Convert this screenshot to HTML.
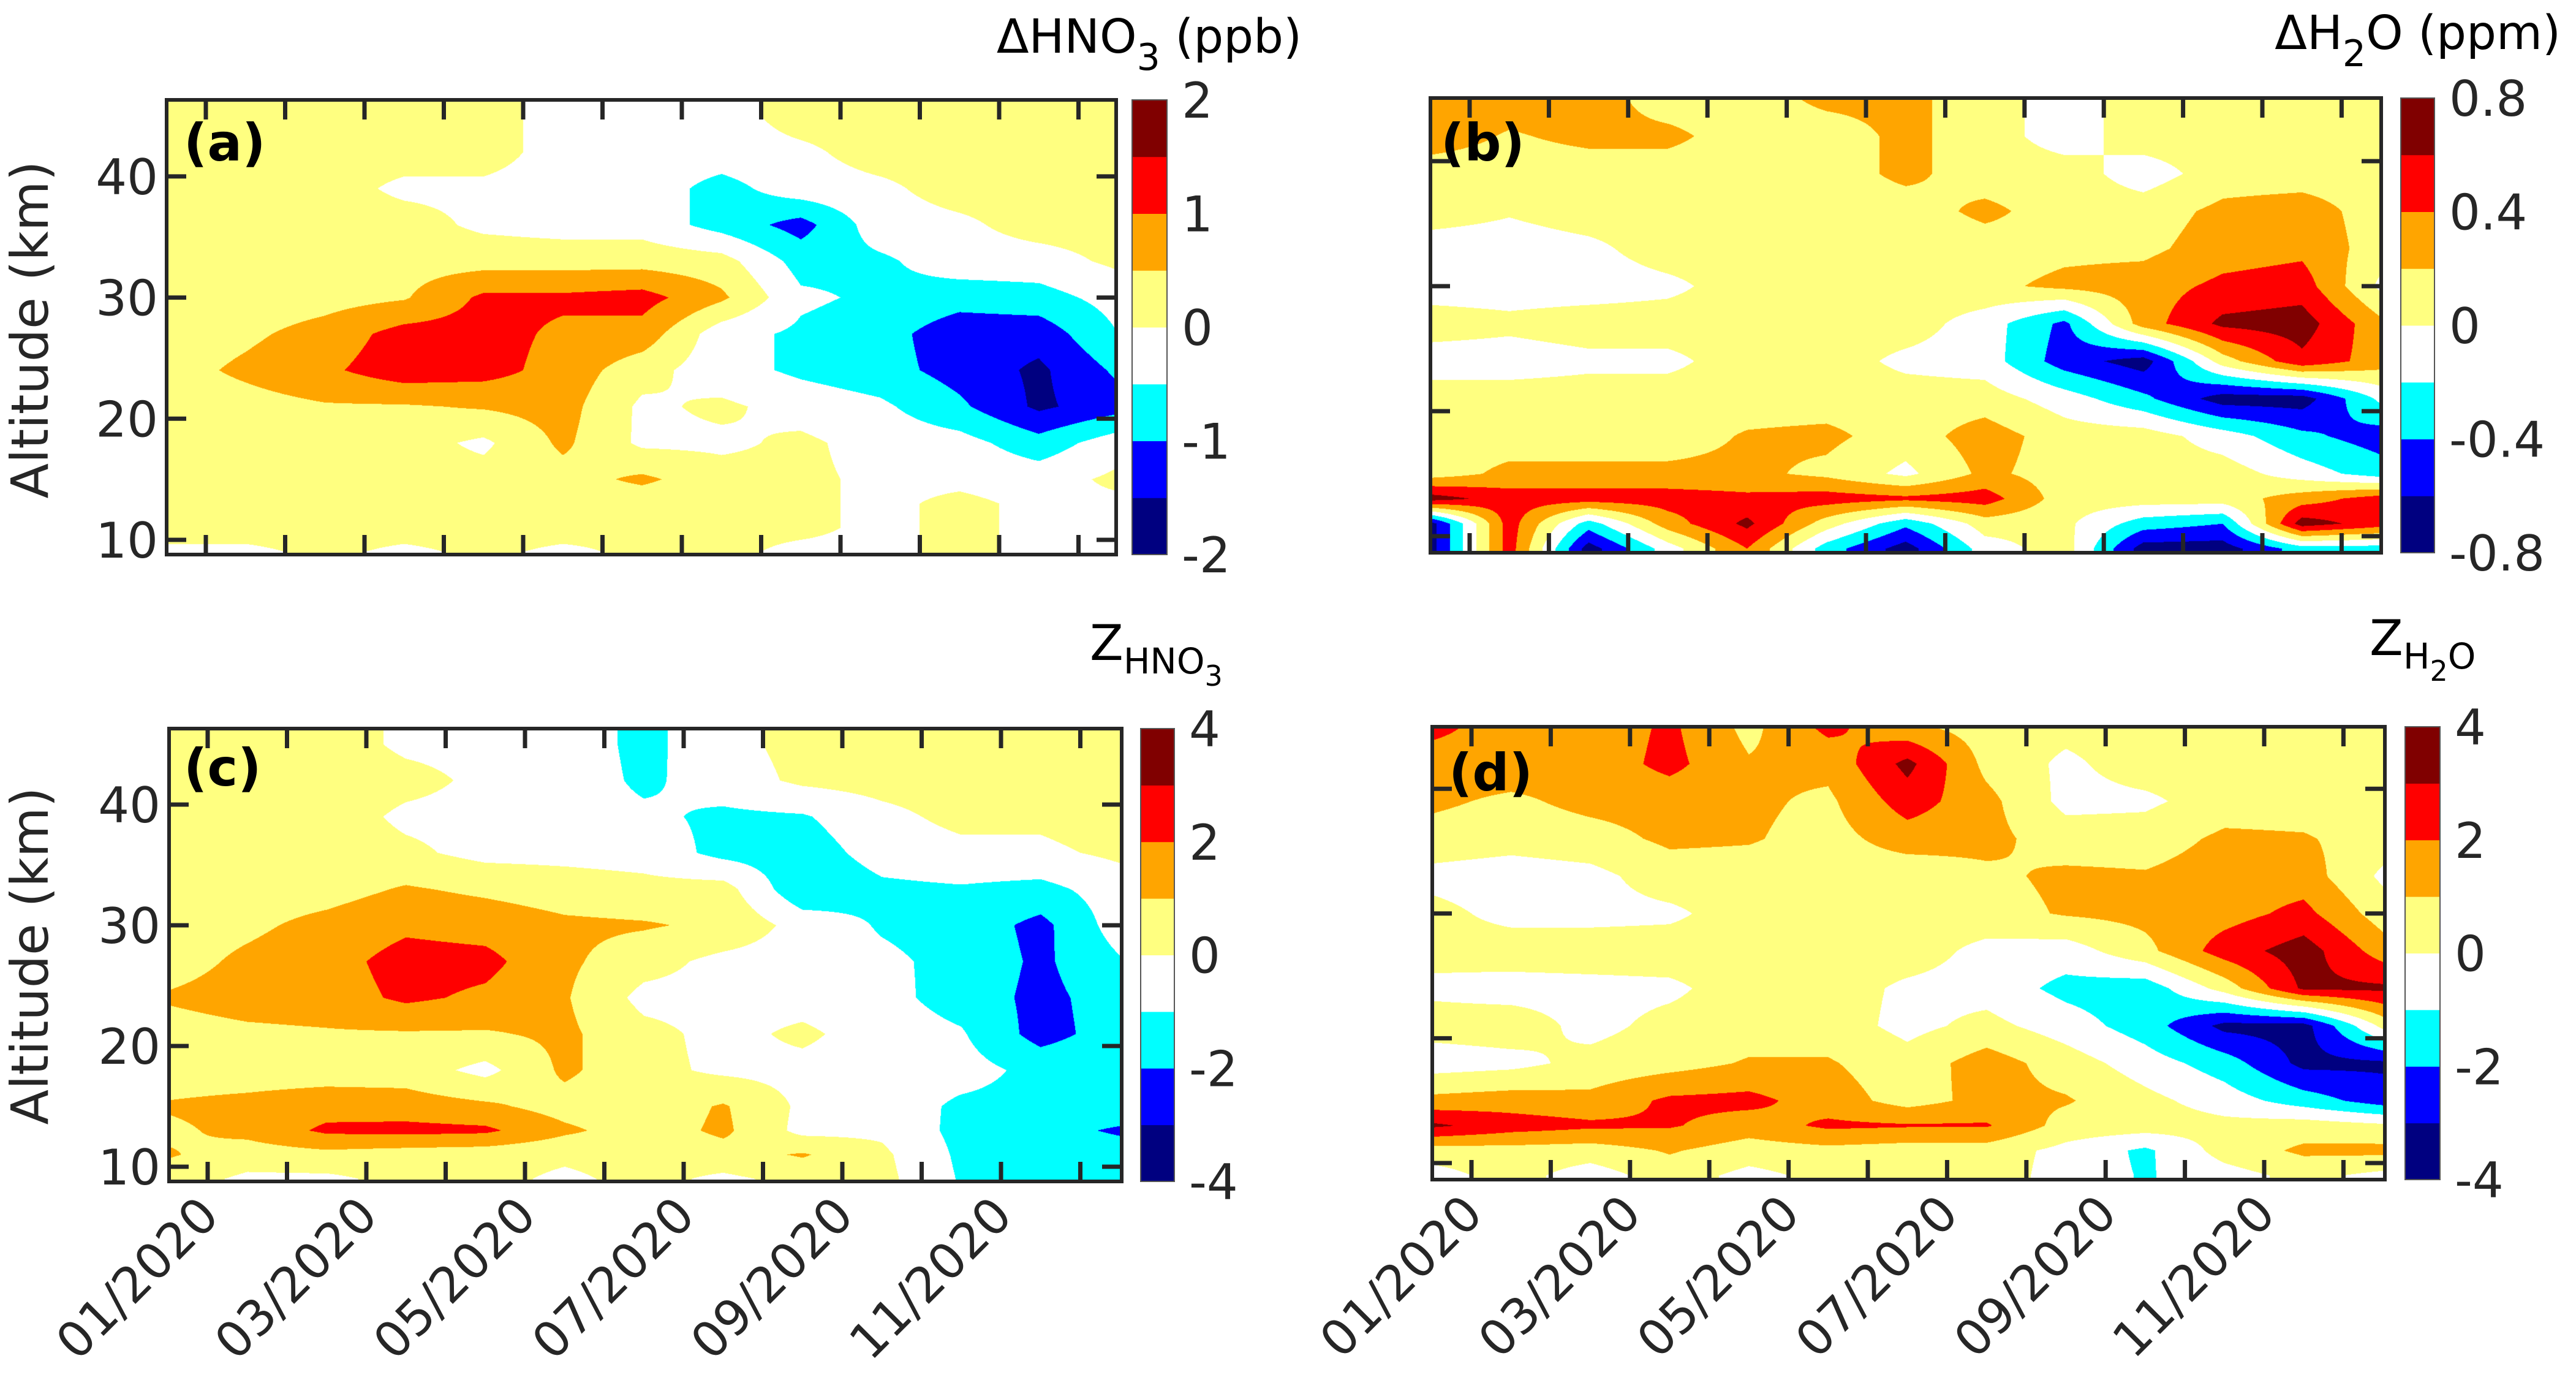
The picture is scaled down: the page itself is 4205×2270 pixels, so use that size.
<!DOCTYPE html>
<html><head><meta charset="utf-8">
<style>
html,body{margin:0;padding:0;background:#fff;}
#root{position:relative;width:4205px;height:2270px;overflow:hidden;background:#fff;font-family:"DejaVu Sans","Liberation Sans",sans-serif;}
canvas{position:absolute;}
svg{position:absolute;left:0;top:0;}
</style></head>
<body>
<div id="root">
<canvas id="cva"></canvas>
<canvas id="cvb"></canvas>
<canvas id="cvc"></canvas>
<canvas id="cvd"></canvas>
<svg id="ov" width="4205" height="2270" font-family="DejaVu Sans, Liberation Sans, sans-serif" fill="#262626">
  <g id="static">
    <text x="78" y="538" font-size="84" text-anchor="middle" transform="rotate(-90 78 538)">Altitude (km)</text>
    <text x="78" y="1560" font-size="84" text-anchor="middle" transform="rotate(-90 78 1560)">Altitude (km)</text>
    <text x="300" y="262" font-size="84" font-weight="bold" fill="#000">(a)</text>
    <text x="2352" y="262" font-size="84" font-weight="bold" fill="#000">(b)</text>
    <text x="300" y="1282" font-size="84" font-weight="bold" fill="#000">(c)</text>
    <text x="2365" y="1290" font-size="84" font-weight="bold" fill="#000">(d)</text>
    <text x="2125" y="86" font-size="77" text-anchor="end" fill="#000">ΔHNO<tspan font-size="60" dy="28">3</tspan><tspan dy="-28"> (ppb)</tspan></text>
    <text x="4180" y="80" font-size="77" text-anchor="end" fill="#000">ΔH<tspan font-size="60" dy="28">2</tspan><tspan dy="-28">O (ppm)</tspan></text>
    <text x="1779" y="1077" font-size="80" fill="#000">Z<tspan font-size="58" dy="22">HNO</tspan><tspan font-size="46" dy="20">3</tspan></text>
    <text x="3868" y="1069" font-size="80" fill="#000">Z<tspan font-size="58" dy="22">H</tspan><tspan font-size="46" dy="20">2</tspan><tspan font-size="58" dy="-20">O</tspan></text>
  </g>
  <g id="dyn"></g>
</svg>
</div>
<script>
// ---- data (grid: columns = mid-month steps, rows = altitude km) ----
const timeMonths = [-0.5,0.5,1.5,2.5,3.5,4.5,5.5,6.5,7.5,8.5,9.5,10.5,11.5];
const altitudesKm = [48,45,42,39,36,33,30,27,24,21,18,15,13,11,9];
const monthTicks = [0,1,2,3,4,5,6,7,8,9,10,11];
const dateLabelMonths = [0,2,4,6,8,10];
const dateLabels = ["01/2020","03/2020","05/2020","07/2020","09/2020","11/2020"];
const altTicks = [10,20,30,40];
const altTickLabels = ["10","20","30","40"];
const cbTicksA = [-2,-1,0,1,2];
const cbTicksB = [-0.8,-0.4,0,0.4,0.8];
const cbTicksZ = [-4,-2,0,2,4];
const hno3Delta = [
[0.2,0.2,0.2,0.2,0.2,-0.2,-0.2,-0.2,0.2,0.2,0.2,0.2,0.2],
[0.2,0.2,0.2,0.2,0.2,-0.2,-0.2,-0.2,0.2,0.2,0.2,0.2,0.2],
[0.2,0.2,0.2,0.2,0.2,-0.2,-0.2,-0.2,-0.1,0.2,0.2,0.2,0.2],
[0.2,0.2,0.2,-0.1,-0.1,-0.2,-0.2,-0.7,-0.2,-0.1,0.2,0.2,0.2],
[0.2,0.2,0.2,0.2,-0.1,-0.2,-0.2,-0.7,-1.2,-0.2,-0.1,0.2,0.2],
[0.2,0.2,0.2,0.3,0.3,0.3,0.3,0.2,-0.7,-0.6,-0.2,-0.2,0.1],
[0.2,0.2,0.3,0.45,1.1,1.1,1.2,0.6,-0.4,-0.6,-0.8,-0.7,-0.3],
[0.2,0.4,0.7,1.2,1.2,0.9,0.8,-0.3,-0.6,-0.8,-1.3,-1.3,-0.5],
[0.3,0.6,0.9,1.3,1.2,0.8,0.2,-0.3,-0.6,-0.8,-1.2,-1.6,-0.9],
[0.2,0.3,0.45,0.45,0.55,0.7,-0.1,0.1,-0.2,-0.4,-0.9,-1.6,-1.2],
[0.2,0.2,0.2,0.2,-0.1,0.6,-0.1,-0.1,0.1,-0.2,-0.3,-0.8,-0.2],
[0.2,0.2,0.2,0.2,0.2,0.3,0.6,0.2,0.1,-0.1,-0.1,-0.2,0.1],
[0.2,0.2,0.2,0.2,0.2,0.2,0.2,0.1,0.1,-0.1,0.1,-0.1,-0.1],
[0.2,0.2,0.2,0.2,0.2,0.2,0.1,0.1,0.1,-0.1,0.1,-0.1,-0.1],
[-0.1,-0.1,0.1,-0.1,0.1,-0.1,0.1,0.1,-0.1,-0.1,0.1,-0.1,-0.1]];
const h2oDelta = [
[0.3,0.3,0.3,0.1,0.1,0.25,0.25,0.1,-0.1,0.1,0.1,0.1,0.1],
[0.3,0.3,0.3,0.1,0.1,0.25,0.25,0.1,-0.1,0.1,0.1,0.1,0.1],
[0.3,0.18,0.25,0.25,0.1,0.1,0.25,0.1,-0.1,0.1,0.1,0.1,0.1],
[0.1,0.1,0.1,0.1,0.1,0.1,0.25,0.1,0.1,-0.1,0.1,0.1,0.1],
[0.1,0.02,0.1,0.1,0.1,0.1,0.1,0.25,0.1,0.1,0.25,0.3,0.1],
[-0.1,-0.1,-0.05,0.1,0.1,0.1,0.05,0.1,0.15,0.15,0.3,0.35,0.1],
[-0.1,-0.1,-0.1,-0.05,0.1,0.1,0.1,0.15,0.25,0.3,0.45,0.5,-0.05],
[0.1,0.05,0.1,0.1,0.1,0.1,0.1,-0.1,-0.45,0.3,0.65,0.7,0.25],
[-0.1,-0.1,-0.05,-0.05,0.1,0.1,-0.05,-0.1,-0.5,-0.7,0.1,0.55,0.3],
[0.1,0.1,0.1,0.1,0.1,0.1,0.1,0.1,-0.1,-0.35,-0.7,-0.7,-0.15],
[0.1,0.1,0.1,0.1,0.22,0.25,0.1,0.3,0.1,0.1,-0.1,-0.35,-0.5],
[0.1,0.25,0.25,0.25,0.25,0.15,-0.05,0.25,0.1,0.1,0.1,-0.1,-0.3],
[0.7,0.5,0.5,0.5,0.45,0.5,0.45,0.5,0.1,0.1,0.1,0.3,0.5],
[-0.7,0.5,-0.3,0.3,0.65,0.1,-0.35,0.1,0.05,-0.3,-0.4,0.7,0.5],
[-0.7,0.5,-0.7,-0.1,0.4,-0.3,-0.7,-0.1,0.1,-0.7,-0.7,-0.3,-0.3]];
const hno3Z = [
[0.5,0.5,0.5,-0.2,-0.3,-0.4,-1.3,-0.3,0.3,0.5,0.5,0.5,0.5],
[0.5,0.5,0.5,-0.2,-0.3,-0.4,-1.3,-0.3,0.3,0.5,0.5,0.5,0.5],
[0.5,0.5,0.6,0.3,-0.2,-0.4,-1.2,-0.5,0.2,0.4,0.5,0.5,0.5],
[0.5,0.5,0.5,-0.2,-0.3,-0.6,-0.8,-1.2,-1.1,-0.3,0.3,0.2,0.5],
[0.4,0.5,0.5,0.2,-0.3,-0.3,-0.4,-1.3,-1.5,-0.6,-0.3,-0.2,0.2],
[0.5,0.5,0.6,1.1,0.8,0.5,0.3,0.4,-1.8,-1.2,-1.1,-1.3,-0.5],
[0.5,0.8,1.3,1.8,1.6,1.2,1.1,0.8,-0.4,-1.1,-1.4,-2.3,-0.5],
[0.6,1.2,1.6,2.4,2.3,1.2,0.4,-0.3,-0.5,-0.8,-1.3,-2.2,-1.1],
[1.1,1.4,1.5,2.2,1.8,1.1,-0.3,-0.3,-0.4,-0.7,-1.4,-2.3,-1.5],
[0.6,0.8,0.9,0.9,0.9,1.2,0.3,-0.3,0.2,-0.5,-0.9,-2.4,-1.5],
[0.5,0.5,0.5,0.5,-0.3,1.2,0.3,-0.2,-0.3,-0.5,-0.6,-1.3,-1.1],
[1.1,1.3,1.6,1.5,1.2,0.6,0.4,1.1,-0.2,-0.4,-1.2,-1.3,-1.1],
[0.8,1.3,2.2,2.3,2.2,1.2,0.5,1.2,-0.3,-0.2,-1.3,-1.5,-2.2],
[1.1,0.5,0.7,0.5,0.4,0.2,0.4,0.6,1.1,0.2,-1.2,-1.2,-1.3],
[0.5,-0.2,-0.2,0.3,0.3,-0.2,0.3,-0.2,0.3,0.3,-1.1,-1.1,-1.2]];
const h2oZ = [
[2.3,1.5,1.3,2.2,0.7,2.3,1.2,0.5,0.3,0.5,0.5,0.5,0.5],
[2.3,1.5,1.3,2.2,0.7,2.3,1.2,0.5,0.3,0.5,0.5,0.5,0.5],
[1.5,1.6,1.4,2.3,1.1,1.3,3.3,0.7,-0.2,0.5,0.5,0.5,0.5],
[1.2,0.8,1.3,1.4,1.2,0.8,2.5,1.3,-0.3,-0.2,0.5,0.5,0.5],
[0.6,0.4,0.6,1.2,1.1,0.6,1.5,1.3,0.5,0.5,1.2,1.1,0.5],
[-0.3,-0.5,-0.3,0.5,0.5,0.5,0.3,0.8,1.2,1.1,1.5,1.5,-0.2],
[0.3,-0.3,-0.3,-0.2,0.5,0.5,0.5,0.6,1.1,1.3,1.6,2.3,0.5],
[0.3,0.5,0.5,0.5,0.5,0.5,0.5,-0.3,-0.5,0.7,2.5,3.5,1.5],
[-0.2,-0.4,-0.3,-0.2,0.5,0.5,-0.2,-0.4,-1.3,-1.6,0.4,3.2,3.2],
[0.4,0.5,-0.3,0.3,0.5,0.5,-0.3,0.3,-0.5,-1.5,-3.3,-3.4,0.3],
[-0.5,-0.3,0.3,0.6,1.1,1.1,0.4,1.5,0.5,-0.5,-1.5,-3.3,-3.2],
[1.3,1.5,1.3,2.2,2.3,1.5,0.6,1.3,1.1,0.3,-0.5,-1.5,-2.5],
[3.2,2.5,2.2,2.1,1.5,2.2,2.1,2.1,0.6,0.5,0.3,0.5,0.2],
[0.5,0.6,0.5,1.1,0.5,0.7,0.5,0.5,-0.3,-1.2,0.4,1.2,1.3],
[-0.4,0.4,-0.5,0.5,-0.3,0.3,0.4,0.5,-0.4,-1.1,-0.4,0.3,-0.3]];

const palette = [[0,0,128],[0,0,255],[0,255,255],[255,255,255],[255,255,128],[255,165,0],[255,0,0],[128,0,0]];
const panels = [
 {id:'a', data:hno3Delta, step:0.5, x0:272,x1:1822,y0:163,y1:905, xJan:336, mpx:129.5, y10:881, kpx:19.77, cb:[1848,1905], cbt:cbTicksA, lab:true, dates:false},
 {id:'b', data:h2oDelta, step:0.2, x0:2335,x1:3887,y0:160,y1:902, xJan:2399, mpx:129.4, y10:875, kpx:20.4, cb:[3919,3974], cbt:cbTicksB, lab:false, dates:false},
 {id:'c', data:hno3Z, step:1, x0:276,x1:1831,y0:1189,y1:1928, xJan:339, mpx:129.5, y10:1904, kpx:19.7, cb:[1862,1917], cbt:cbTicksZ, lab:true, dates:true},
 {id:'d', data:h2oZ, step:1, x0:2338,x1:3893,y0:1186,y1:1925, xJan:2402, mpx:129.4, y10:1898, kpx:20.36, cb:[3926,3983], cbt:cbTicksZ, lab:false, dates:true}
];
function sample(data, t, a){
  let tt = Math.max(timeMonths[0], Math.min(timeMonths[timeMonths.length-1], t));
  let ci = 0; while(ci < timeMonths.length-2 && tt > timeMonths[ci+1]) ci++;
  const ft = (tt - timeMonths[ci])/(timeMonths[ci+1]-timeMonths[ci]);
  let aa = Math.max(altitudesKm[altitudesKm.length-1], Math.min(altitudesKm[0], a));
  let ri = 0; while(ri < altitudesKm.length-2 && aa < altitudesKm[ri+1]) ri++;
  const fa = (altitudesKm[ri]-aa)/(altitudesKm[ri]-altitudesKm[ri+1]);
  const v00=data[ri][ci], v01=data[ri][ci+1], v10=data[ri+1][ci], v11=data[ri+1][ci+1];
  return (v00*(1-ft)+v01*ft)*(1-fa) + (v10*(1-ft)+v11*ft)*fa;
}
const NS='http://www.w3.org/2000/svg';
const dyn = document.getElementById('dyn');
function mk(tag, attrs){ const e=document.createElementNS(NS,tag); for(const k in attrs) e.setAttribute(k, attrs[k]); dyn.appendChild(e); return e; }
panels.forEach(p=>{
  const cv = document.getElementById('cv'+p.id);
  const w = p.x1-p.x0, h = p.y1-p.y0;
  cv.width=w; cv.height=h; cv.style.left=p.x0+'px'; cv.style.top=p.y0+'px';
  const ctx = cv.getContext('2d'); const img = ctx.createImageData(w,h);
  for(let py=0; py<h; py++){
    const a = 10 + (p.y10 - (p.y0+py+0.5))/p.kpx;
    for(let px=0; px<w; px++){
      const t = (p.x0+px+0.5 - p.xJan)/p.mpx;
      const v = sample(p.data, t, a);
      let bin = Math.floor(v/p.step)+4; bin = Math.max(0, Math.min(7, bin));
      const c = palette[bin]; const o=(py*w+px)*4;
      img.data[o]=c[0]; img.data[o+1]=c[1]; img.data[o+2]=c[2]; img.data[o+3]=255;
    }
  }
  ctx.putImageData(img,0,0);
  const fr = mk('rect',{x:p.x0,y:p.y0,width:w,height:h,fill:'none',stroke:'#262626','stroke-width':6});
  
  
  monthTicks.forEach(m=>{
    const x = p.xJan + m*p.mpx;
    const t1 = mk('line',{x1:x,y1:p.y0,x2:x,y2:p.y0+32,stroke:'#262626','stroke-width':7});
    
    
    const t2 = mk('line',{x1:x,y1:p.y1,x2:x,y2:p.y1-32,stroke:'#262626','stroke-width':7});
    
    
  });
  altTicks.forEach((a,i)=>{
    const y = p.y10 - (a-10)*p.kpx;
    const l1 = mk('line',{x1:p.x0,y1:y,x2:p.x0+32,y2:y,stroke:'#262626','stroke-width':7});
    
    
    const l2 = mk('line',{x1:p.x1,y1:y,x2:p.x1-32,y2:y,stroke:'#262626','stroke-width':7});
    
    
    if(p.lab){
      const tx = mk('text',{x:p.x0-14,y:y+29,'font-size':80,'text-anchor':'end'});
      tx.textContent = altTickLabels[i];
      
      
    }
  });
  if(p.dates){
    dateLabelMonths.forEach((m,i)=>{
      const x = p.xJan + m*p.mpx + 22, y = p.y1 + 60;
      const tx = mk('text',{x:x,y:y,'font-size':80,'text-anchor':'end',transform:'rotate(-45 '+x+' '+y+')'});
      tx.textContent = dateLabels[i];
      
      
    });
  }
  const cbH = (p.y1-p.y0)/8;
  for(let b=0;b<8;b++){
    const c = palette[b];
    const r = mk('rect',{x:p.cb[0],y:p.y1-(b+1)*cbH,width:p.cb[1]-p.cb[0],height:cbH+0.5,fill:'rgb('+c.join(',')+')'});
    
    
  }
  const cbf = mk('rect',{x:p.cb[0],y:p.y0,width:p.cb[1]-p.cb[0],height:p.y1-p.y0,fill:'none',stroke:'#555','stroke-width':2});
  
  
  const vmin = p.cbt[0], vmax = p.cbt[p.cbt.length-1];
  p.cbt.forEach(v=>{
    const y = p.y1 - (v-vmin)/(vmax-vmin)*(p.y1-p.y0);
    const tx = mk('text',{x:p.cb[1]+24,y:y+29,'font-size':80});
    tx.textContent = (p.id==='b' ? (v===0?'0':v.toFixed(1)) : String(v));
    
    
  });
});
</script>
</body></html>
